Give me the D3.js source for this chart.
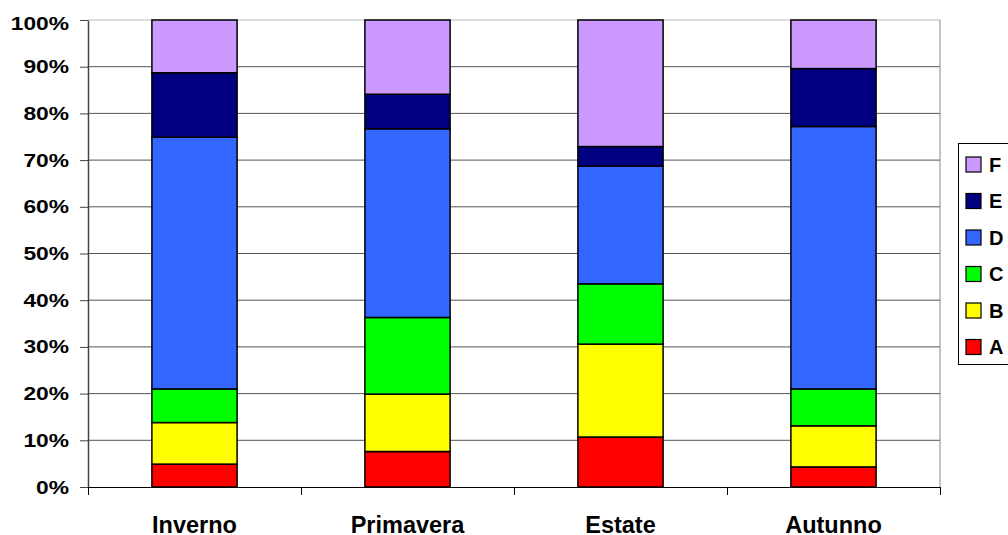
<!DOCTYPE html>
<html>
<head>
<meta charset="utf-8">
<script src="https://cdn.jsdelivr.net/npm/d3@7"></script>
<style>
  body { margin: 0; background: #fff; }
  text { font-family: "Liberation Sans", Arial, sans-serif; font-weight: bold; }
</style>
</head>
<body>
<svg id="pic" width="1008" height="535"></svg>
<script>
var seasons = ["Inverno", "Primavera", "Estate", "Autunno"];
var keys = ["A", "B", "C", "D", "E", "F"];
var colors = ["#FF0000", "#FFFF00", "#00FF00", "#3366FF", "#000080", "#CC99FF"];

// percent shares per season
var A = [4.9, 7.6, 10.7, 4.3];
var B = [8.9, 12.3, 19.9, 8.8];
var C = [7.2, 16.4, 12.9, 7.9];
var D = [53.9, 40.4, 25.2, 56.2];
var E = [13.8, 7.4, 4.2, 12.4];
var F = [11.3, 15.9, 27.1, 10.4];

var yTicks = [0, 0.1, 0.2, 0.3, 0.4, 0.5, 0.6, 0.7, 0.8, 0.9, 1];

var rows = seasons.map(function(s, i){
  return {season: s, A: A[i], B: B[i], C: C[i], D: D[i], E: E[i], F: F[i]};
});

var svg = d3.select("#pic");
var plotLeft = 88, plotRight = 940, plotTop = 20, plotBottom = 487;

var x = d3.scaleBand().domain(seasons).range([plotLeft, plotRight]).paddingInner(0.6).paddingOuter(0.3);
var xEdges = d3.scaleLinear().domain([0, seasons.length]).range([plotLeft, plotRight]);
var y = d3.scaleLinear().domain([0, 1]).range([plotBottom, plotTop]);
var color = d3.scaleOrdinal().domain(keys).range(colors);

// gridlines
svg.append("g").selectAll("line").data(yTicks.slice(1)).join("line")
  .attr("x1", plotLeft).attr("x2", plotRight)
  .attr("y1", function(d){ return y(d); }).attr("y2", function(d){ return y(d); })
  .attr("stroke", function(d){ return d === 1 ? "#bbb" : "#555"; })
  .attr("stroke-width", 1);

// right border of plot area
svg.append("line").attr("x1", plotRight).attr("x2", plotRight).attr("y1", plotTop).attr("y2", plotBottom)
  .attr("stroke", "#888");

// stacked bars
var stack = d3.stack().keys(keys).offset(d3.stackOffsetExpand);
var series = stack(rows);

svg.append("g").selectAll("g").data(series).join("g")
  .attr("fill", function(d){ return color(d.key); })
  .selectAll("rect").data(function(d){ return d; }).join("rect")
  .attr("x", function(d){ return x(d.data.season); })
  .attr("width", x.bandwidth())
  .attr("y", function(d){ return y(d[1]); })
  .attr("height", function(d){ return y(d[0]) - y(d[1]); })
  .attr("stroke", "#000")
  .attr("stroke-width", 1.5);

// y axis
var yAxis = svg.append("g").attr("transform", "translate(" + plotLeft + ",0)")
  .call(d3.axisLeft(y).tickValues(yTicks).tickFormat(d3.format(".0%")).tickSize(8).tickSizeOuter(0));
yAxis.select(".domain").attr("stroke", "#444").attr("stroke-width", 1.5);
yAxis.selectAll(".tick line").attr("stroke", "#444");
yAxis.selectAll(".tick text")
  .attr("font-size", 19)
  .attr("fill", "#000")
  .attr("transform", "scale(1.2,1)")
  .attr("x", -19 / 1.2)
  .attr("dy", function(d){ return d === 1 ? "0.52em" : "0.32em"; });

// x axis: ticks at category boundaries
var xAxis = svg.append("g").attr("transform", "translate(0," + plotBottom + ")")
  .call(d3.axisBottom(xEdges).tickValues(d3.range(seasons.length + 1)).tickFormat("").tickSize(8).tickSizeOuter(0));
xAxis.select(".domain").attr("stroke", "#000").attr("stroke-width", 1.2);
xAxis.selectAll(".tick line").attr("stroke", "#000");

// category labels
var xLabels = svg.append("g").attr("transform", "translate(0," + plotBottom + ")")
  .call(d3.axisBottom(x).tickSize(0));
xLabels.select(".domain").remove();
xLabels.selectAll(".tick text")
  .attr("font-size", 23.5)
  .attr("fill", "#000")
  .attr("y", 46)
  .attr("dy", 0);

// legend
var legend = svg.append("g");
legend.append("rect").attr("x", 958.5).attr("y", 143.5).attr("width", 60).attr("height", 221)
  .attr("fill", "#fff").attr("stroke", "#000").attr("stroke-width", 1);
var item = legend.selectAll("g.item").data(keys.slice().reverse()).join("g")
  .attr("class", "item")
  .attr("transform", function(d, i){ return "translate(966," + (164.5 + i * 36.5) + ")"; });
item.append("rect").attr("x", 0).attr("y", -7.5).attr("width", 15).attr("height", 15)
  .attr("fill", function(d){ return color(d); })
  .attr("stroke", "#000").attr("stroke-width", 1.2);
item.append("text").attr("x", 23).attr("y", 0).attr("dy", "0.36em")
  .attr("font-size", 20).attr("fill", "#000")
  .text(function(d){ return d; });
</script>
</body>
</html>
